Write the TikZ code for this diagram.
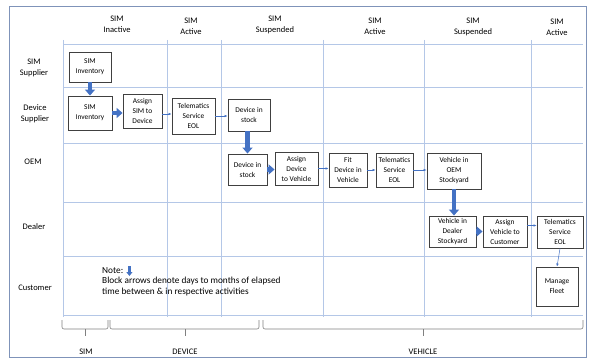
\documentclass[tikz,border=0pt]{standalone}
\usepackage{fontspec}
\setmainfont{Carlito}
\usetikzlibrary{arrows.meta}
\definecolor{rejilla}{RGB}{180,199,231}
\definecolor{azul}{RGB}{68,114,196}
\definecolor{marco}{RGB}{127,147,185}
\definecolor{borde}{RGB}{64,64,64}
\begin{document}
\begin{tikzpicture}[x=1pt,y=-1pt,
	caja/.style={draw=borde, line width=0.9pt, fill=white, align=center, inner sep=1pt, font=\fontsize{7.4}{10}\selectfont},
	etiqueta/.style={align=center, font=\fontsize{8.5}{11}\selectfont},
	bloque/.style={azul, line width=4.5pt, -{Triangle[width=10pt,length=6pt]}},
	fina/.style={azul, line width=0.5pt, -{Latex[length=3pt,width=2.5pt]}},
	llave/.style={gray, line width=0.6pt, rounded corners=2pt}]
	\useasboundingbox (0,0) rectangle (593,363);
	
	% Marco exterior
	\draw[marco, line width=0.8pt] (9,6) rectangle (586,357);
	
	% Rejilla
	\draw[rejilla, line width=0.6pt] (63,44) -- (583,44) (63,87) -- (583,87) (63,143) -- (583,143)
		(63,202) -- (583,202) (63,256) -- (583,256) (63,315) -- (583,315);
	\draw[rejilla, line width=0.6pt] (63,40) -- (63,317) (167,40) -- (167,317) (221,40) -- (221,317)
		(323,40) -- (323,317) (424,40) -- (424,317) (531,40) -- (531,317);
	
	% Estados de la SIM
	\node[etiqueta] (h1) at (117,24) {SIM\\Inactive};
	\node[etiqueta] (h2) at (191,26) {SIM\\Active};
	\node[etiqueta] (h3) at (275,25) {SIM\\Suspended};
	\node[etiqueta] (h4) at (375,26) {SIM\\Active};
	\node[etiqueta] (h5) at (473,26.5) {SIM\\Suspended};
	\node[etiqueta] (h6) at (557,27.5) {SIM\\Active};
	
	% Actores
	\node[etiqueta] (r1) at (34,67.5) {SIM\\Supplier};
	\node[etiqueta] (r2) at (35,113.5) {Device\\Supplier};
	\node[etiqueta] (r3) at (33,162) {OEM};
	\node[etiqueta] (r4) at (34,227) {Dealer};
	\node[etiqueta] (r5) at (35,288) {Customer};
	
	% Actividades
	\node[caja, minimum width=42pt, minimum height=30pt] (sinv1) at (90,67) {SIM\\Inventory};
	\node[caja, minimum width=44pt, minimum height=34pt] (sinv2) at (90,113) {SIM\\Inventory};
	\node[caja, minimum width=39pt, minimum height=34pt] (asig) at (142.5,111) {Assign\\SIM to\\Device};
	\node[caja, minimum width=43pt, minimum height=36pt] (tel1) at (193.5,116) {Telematics\\Service\\EOL};
	\node[caja, minimum width=42pt, minimum height=32pt] (dstock1) at (249,115) {Device in\\stock};
	\node[caja, minimum width=39pt, minimum height=31pt] (dstock2) at (247.5,169.5) {Device in\\stock};
	\node[caja, minimum width=43pt, minimum height=33pt] (asigveh) at (296.5,168.5) {Assign\\Device\\to Vehicle};
	\node[caja, minimum width=38pt, minimum height=34pt] (fit) at (348,170) {Fit\\Device in\\Vehicle};
	\node[caja, minimum width=37pt, minimum height=34pt] (tel2) at (394.5,170) {Telematics\\Service\\EOL};
	\node[caja, minimum width=54pt, minimum height=36pt] (vehoem) at (454,171) {Vehicle in\\OEM\\Stockyard};
	\node[caja, minimum width=47pt, minimum height=31pt] (vehdeal) at (452.5,231.5) {Vehicle in\\Dealer\\Stockyard};
	\node[caja, minimum width=44pt, minimum height=31pt] (asigcli) at (505,231.5) {Assign\\Vehicle to\\Customer};
	\node[caja, minimum width=46pt, minimum height=32pt] (tel3) at (560,232) {Telematics\\Service\\EOL};
	\node[caja, minimum width=42pt, minimum height=39pt] (fleet) at (557,286.5) {Manage\\Fleet};
	
	% Flechas de bloque (tiempo transcurrido)
	\draw[bloque] (sinv1.south) -- (sinv2.north);
	\draw[bloque] (sinv2) -- (sinv2 -| asig.west);
	\draw[bloque] (dstock1.south -| dstock2) -- (dstock2.north);
	\draw[bloque] (dstock2) -- (dstock2 -| asigveh.west);
	\draw[bloque] (vehoem.south) -- (vehoem.south |- vehdeal.north);
	\draw[bloque] (vehdeal) -- (vehdeal -| asigcli.west);
	
	% Flechas finas
	\draw[fina] ([yshift=-3pt]asig.east) -- ([yshift=-3pt]asig.east -| tel1.west);
	\draw[fina] (tel1) -- (tel1 -| dstock1.west);
	\draw[fina] (asigveh) -- (asigveh -| fit.west);
	\draw[fina] (fit) -- (fit -| tel2.west);
	\draw[fina] (tel2) -- (tel2 -| vehoem.west);
	\draw[fina] ([yshift=6pt]asigcli.east) -- ([yshift=6pt]asigcli.east -| tel3.west);
	\draw[fina] (tel3.south) -- (fleet.north);
	
	% Nota
	\node[anchor=west, inner sep=0pt, font=\fontsize{9.3}{10.5}\selectfont] (nota) at (102,271) {Note:};
	\coordinate (na) at ([xshift=6pt,yshift=5pt]nota.east);
	\coordinate (nb) at ([xshift=6pt,yshift=-5pt]nota.east);
	\draw[azul, line width=2.5pt, -{Triangle[width=6pt,length=4pt]}] (na) -- (nb);
	\node[anchor=north west, align=left, inner sep=0pt, font=\fontsize{9.3}{10.5}\selectfont] (notatxt) at ([yshift=-3pt]nota.south west)
		{Block arrows denote days to months of elapsed\\time between \& in respective activities};
	
	% Llaves inferiores
	\draw[llave] (62,320) |- (85,329) -| (108,320);
	\draw[gray, line width=0.6pt] (85,329) -- (85,336);
	\draw[llave] (110,320) |- (185,329) -| (259,320);
	\draw[gray, line width=0.6pt] (185,329) -- (185,336);
	\draw[llave] (263,320) |- (423,329) -| (583,320);
	\draw[gray, line width=0.6pt] (423,329) -- (423,336);
	\node[etiqueta] (b1) at (86,352) {SIM};
	\node[etiqueta] (b2) at (185,352) {DEVICE};
	\node[etiqueta] (b3) at (423,352) {VEHICLE};
\end{tikzpicture}
\end{document}
